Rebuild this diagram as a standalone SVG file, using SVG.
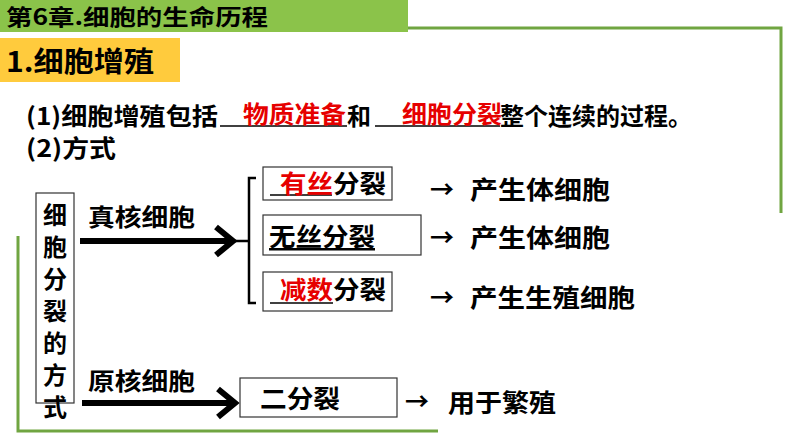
<svg xmlns="http://www.w3.org/2000/svg" width="794" height="447" viewBox="0 0 794 447">
<style>
text{font-family:"Noto Sans CJK SC","Liberation Sans",sans-serif;font-weight:bold;fill:#000}
.r{fill:#e60000}
.box{fill:#fff;stroke:#333;stroke-width:1.2}
.g{fill:none;stroke:#70a541;stroke-width:3}
.ul{stroke:#000;stroke-width:1.5}
</style>
<rect width="794" height="447" fill="#fff"/>
<g id="header">
<rect x="0" y="0" width="408" height="32" fill="#8bc34a"/>
<text x="6" y="25" font-size="22" textLength="262" lengthAdjust="spacingAndGlyphs">第6章.细胞的生命历程</text>
<polyline class="g" points="408,28 781,28 781,213"/>
</g>
<g id="section">
<rect x="0" y="38" width="180" height="44" fill="#ffcb3d"/>
<text x="6" y="72" font-size="28" textLength="148" lengthAdjust="spacingAndGlyphs">1.细胞增殖</text>
</g>
<g id="line1">
<text x="26" y="125" font-size="24" textLength="192" lengthAdjust="spacingAndGlyphs">(1)细胞增殖包括</text>
<line class="ul" x1="220" y1="126" x2="347" y2="126"/>
<text class="r" x="243" y="123" font-size="24" textLength="103" lengthAdjust="spacingAndGlyphs">物质准备</text>
<text x="347" y="125" font-size="24">和</text>
<line class="ul" x1="375" y1="126" x2="500" y2="126"/>
<text class="r" x="402" y="123" font-size="24" textLength="100" lengthAdjust="spacingAndGlyphs">细胞分裂</text>
<text x="500" y="125" font-size="24" textLength="192" lengthAdjust="spacingAndGlyphs">整个连续的过程。</text>
<text x="26" y="157" font-size="24" textLength="90" lengthAdjust="spacingAndGlyphs">(2)方式</text>
</g>
<polyline class="g" points="18,236 18,431 438,431"/>
<g id="root">
<rect class="box" x="36" y="193" width="38" height="210"/>
<text font-size="24" text-anchor="middle"><tspan x="55" y="224">细</tspan><tspan x="55" y="256">胞</tspan><tspan x="55" y="288">分</tspan><tspan x="55" y="320">裂</tspan><tspan x="55" y="352">的</tspan><tspan x="55" y="384">方</tspan><tspan x="55" y="416">式</tspan></text>
</g>
<g id="connectors" fill="none" stroke="#000">
<line x1="80" y1="241" x2="232" y2="241" stroke-width="6"/>
<polyline points="216,227 233,241 216,255" stroke-width="6"/>
<polyline points="256,178 249,178 249,303 256,303" stroke-width="2.5"/>
<line x1="233" y1="241" x2="249" y2="241" stroke-width="2.5"/>
<line x1="82" y1="403" x2="234" y2="403" stroke-width="6"/>
<polyline points="218,389 235,403 218,417" stroke-width="6"/>
</g>
<g id="eu-label"><text x="88" y="226" font-size="24" textLength="107" lengthAdjust="spacingAndGlyphs">真核细胞</text></g>
<g id="pro-label"><text x="88" y="390" font-size="24" textLength="107" lengthAdjust="spacingAndGlyphs">原核细胞</text></g>
<g id="mitosis">
<rect class="box" x="263" y="167" width="129" height="33"/>
<line class="ul" x1="270" y1="195" x2="332" y2="195"/>
<text x="280" y="193" font-size="25" textLength="106" lengthAdjust="spacingAndGlyphs"><tspan class="r">有丝</tspan>分裂</text>
<text x="430" y="198" font-size="24">→</text>
<text x="470" y="199" font-size="25" textLength="140" lengthAdjust="spacingAndGlyphs">产生体细胞</text>
</g>
<g id="amitosis">
<rect class="box" x="263" y="215" width="158" height="40"/>
<text x="269" y="246" font-size="25" text-decoration="underline" textLength="106" lengthAdjust="spacingAndGlyphs">无丝分裂</text>
<text x="430" y="246" font-size="24">→</text>
<text x="470" y="247" font-size="25" textLength="140" lengthAdjust="spacingAndGlyphs">产生体细胞</text>
</g>
<g id="meiosis">
<rect class="box" x="263" y="272" width="129" height="39"/>
<line class="ul" x1="270" y1="303" x2="333" y2="303"/>
<text x="280" y="299" font-size="25" textLength="106" lengthAdjust="spacingAndGlyphs"><tspan class="r">减数</tspan>分裂</text>
<text x="430" y="306" font-size="24">→</text>
<text x="470" y="307" font-size="25" textLength="165" lengthAdjust="spacingAndGlyphs">产生生殖细胞</text>
</g>
<g id="binary">
<rect class="box" x="240" y="378" width="157" height="39"/>
<text x="260" y="408" font-size="25" textLength="80" lengthAdjust="spacingAndGlyphs">二分裂</text>
<text x="405" y="410" font-size="24">→</text>
<text x="448" y="412" font-size="25" textLength="108" lengthAdjust="spacingAndGlyphs">用于繁殖</text>
</g>
</svg>
